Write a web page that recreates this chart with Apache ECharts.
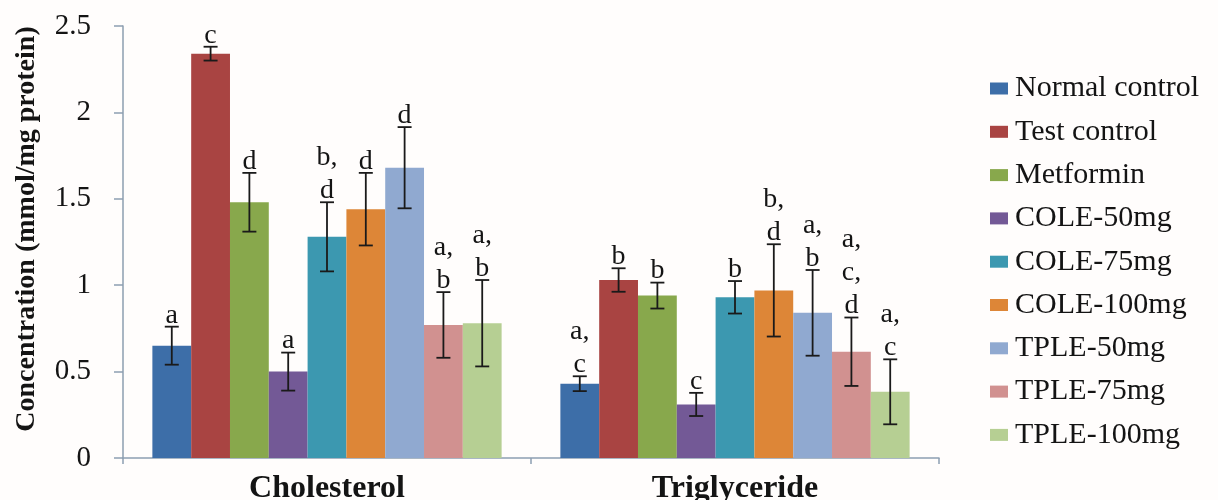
<!DOCTYPE html>
<html>
<head>
<meta charset="utf-8">
<script src="https://cdn.jsdelivr.net/npm/echarts@6/dist/echarts.min.js"></script>
<style>
html,body{margin:0;padding:0;background:#fffdfc;}
#chart{width:1218px;height:500px;}
</style>
</head>
<body>
<div id="chart"></div>
<script>
const categories = ['Cholesterol', 'Triglyceride'];
const groupNames = ['Normal control', 'Test control', 'Metformin', 'COLE-50mg', 'COLE-75mg', 'COLE-100mg', 'TPLE-50mg', 'TPLE-75mg', 'TPLE-100mg'];
const groupColors = ['#3d6ea8', '#a94442', '#88a84c', '#735996', '#3c98b0', '#dd8637', '#90a9d0', '#d19190', '#b6cf93'];
const cholesterolMean = [0.65, 2.34, 1.48, 0.50, 1.28, 1.44, 1.68, 0.77, 0.78];
const cholesterolErr = [0.11, 0.04, 0.17, 0.11, 0.20, 0.21, 0.235, 0.19, 0.25];
const triglycerideMean = [0.43, 1.03, 0.94, 0.31, 0.93, 0.97, 0.84, 0.615, 0.383];
const triglycerideErr = [0.043, 0.068, 0.075, 0.067, 0.094, 0.267, 0.248, 0.198, 0.188];
const cholesterolSig = ['a', 'c', 'd', 'a', 'b,\nd', 'd', 'd', 'a,\nb', 'a,\nb'];
const triglycerideSig = ['a,\nc', 'b', 'b', 'c', 'b', 'b,\nd', 'a,\nb', 'a,\nc,\nd', 'a,\nc'];
const yMin = 0, yMax = 2.5, yInterval = 0.5;

const CAT_GAP = 0.144;
const SERIF = '"Liberation Serif", "Times New Roman", serif';
const AXIS_COLOR = '#8d9eb1';
const TEXT_COLOR = '#141414';

const means = [cholesterolMean, triglycerideMean];
const errs = [cholesterolErr, triglycerideErr];
const sigs = [cholesterolSig, triglycerideSig];

const barSeries = groupNames.map((name, i) => ({
  name: name,
  type: 'bar',
  data: [cholesterolMean[i], triglycerideMean[i]],
  itemStyle: { color: groupColors[i] },
  barGap: '0%',
  barCategoryGap: (CAT_GAP * 100) + '%',
  emphasis: { disabled: true },
  z: 2
}));

const errData = [];
const errLabels = [];
for (let c = 0; c < categories.length; c++) {
  for (let s = 0; s < groupNames.length; s++) {
    errData.push([c, s, means[c][s], errs[c][s]]);
    errLabels.push(sigs[c][s]);
  }
}

const errSeries = {
  type: 'custom',
  z: 5,
  silent: true,
  encode: { x: 0, y: 2 },
  data: errData,
  renderItem: function (params, api) {
    const cat = api.value(0);
    const s = api.value(1);
    const v = api.value(2);
    const e = api.value(3);
    const band = api.size([1, 0])[0];
    const total = band * (1 - CAT_GAP);
    const bw = total / groupNames.length;
    const center = api.coord([cat, 0])[0];
    const cx = center - total / 2 + (s + 0.5) * bw;
    const top = api.coord([cat, v + e])[1];
    const bot = api.coord([cat, v - e])[1];
    const cap = 7;
    const ls = { stroke: '#1a1a1a', lineWidth: 1.8 };
    return {
      type: 'group',
      children: [
        { type: 'line', shape: { x1: cx, y1: top, x2: cx, y2: bot }, style: ls },
        { type: 'line', shape: { x1: cx - cap, y1: top, x2: cx + cap, y2: top }, style: ls },
        { type: 'line', shape: { x1: cx - cap, y1: bot, x2: cx + cap, y2: bot }, style: ls },
        {
          type: 'text',
          style: {
            text: errLabels[params.dataIndex],
            x: cx, y: top + 5,
            align: 'center', verticalAlign: 'bottom',
            textAlign: 'center', textVerticalAlign: 'bottom',
            fontSize: 28, fontFamily: SERIF, lineHeight: 33,
            fill: TEXT_COLOR
          }
        }
      ]
    };
  }
};

const chart = echarts.init(document.getElementById('chart'), null, { renderer: 'canvas' });
chart.setOption({
  backgroundColor: '#fffdfc',
  animation: false,
  grid: { left: 123, right: 279, top: 26, bottom: 42, containLabel: false, outerBoundsMode: 'none' },
  legend: {
    orient: 'vertical',
    left: 985,
    top: 68,
    itemWidth: 18,
    itemHeight: 12,
    itemGap: 12.3,
    icon: 'rect',
    data: groupNames,
    textStyle: { fontFamily: SERIF, fontSize: 30, lineHeight: 31, color: TEXT_COLOR, padding: [0, 0, 0, 2] },
    selectedMode: false
  },
  xAxis: {
    type: 'category',
    data: categories,
    axisLine: { show: true, lineStyle: { color: AXIS_COLOR, width: 1.5 } },
    axisTick: { show: true, length: 6, alignWithLabel: false, lineStyle: { color: AXIS_COLOR, width: 1.5 } },
    axisLabel: { fontFamily: SERIF, fontSize: 32, fontWeight: 'bold', color: TEXT_COLOR, margin: 15 },
    splitLine: { show: false }
  },
  yAxis: {
    type: 'value',
    min: yMin, max: yMax, interval: yInterval,
    name: 'Concentration (mmol/mg protein)',
    nameLocation: 'middle',
    nameGap: 82,
    nameTextStyle: { fontFamily: SERIF, fontSize: 28, fontWeight: 'bold', color: TEXT_COLOR, padding: [0, 0, 0, 26] },
    axisLine: { show: true, lineStyle: { color: AXIS_COLOR, width: 1.5 } },
    axisTick: { show: true, length: 9, lineStyle: { color: AXIS_COLOR, width: 1.5 } },
    axisLabel: { fontFamily: SERIF, fontSize: 29, color: TEXT_COLOR, margin: 32 },
    splitLine: { show: false }
  },
  series: barSeries.concat([errSeries])
});
</script>
</body>
</html>
